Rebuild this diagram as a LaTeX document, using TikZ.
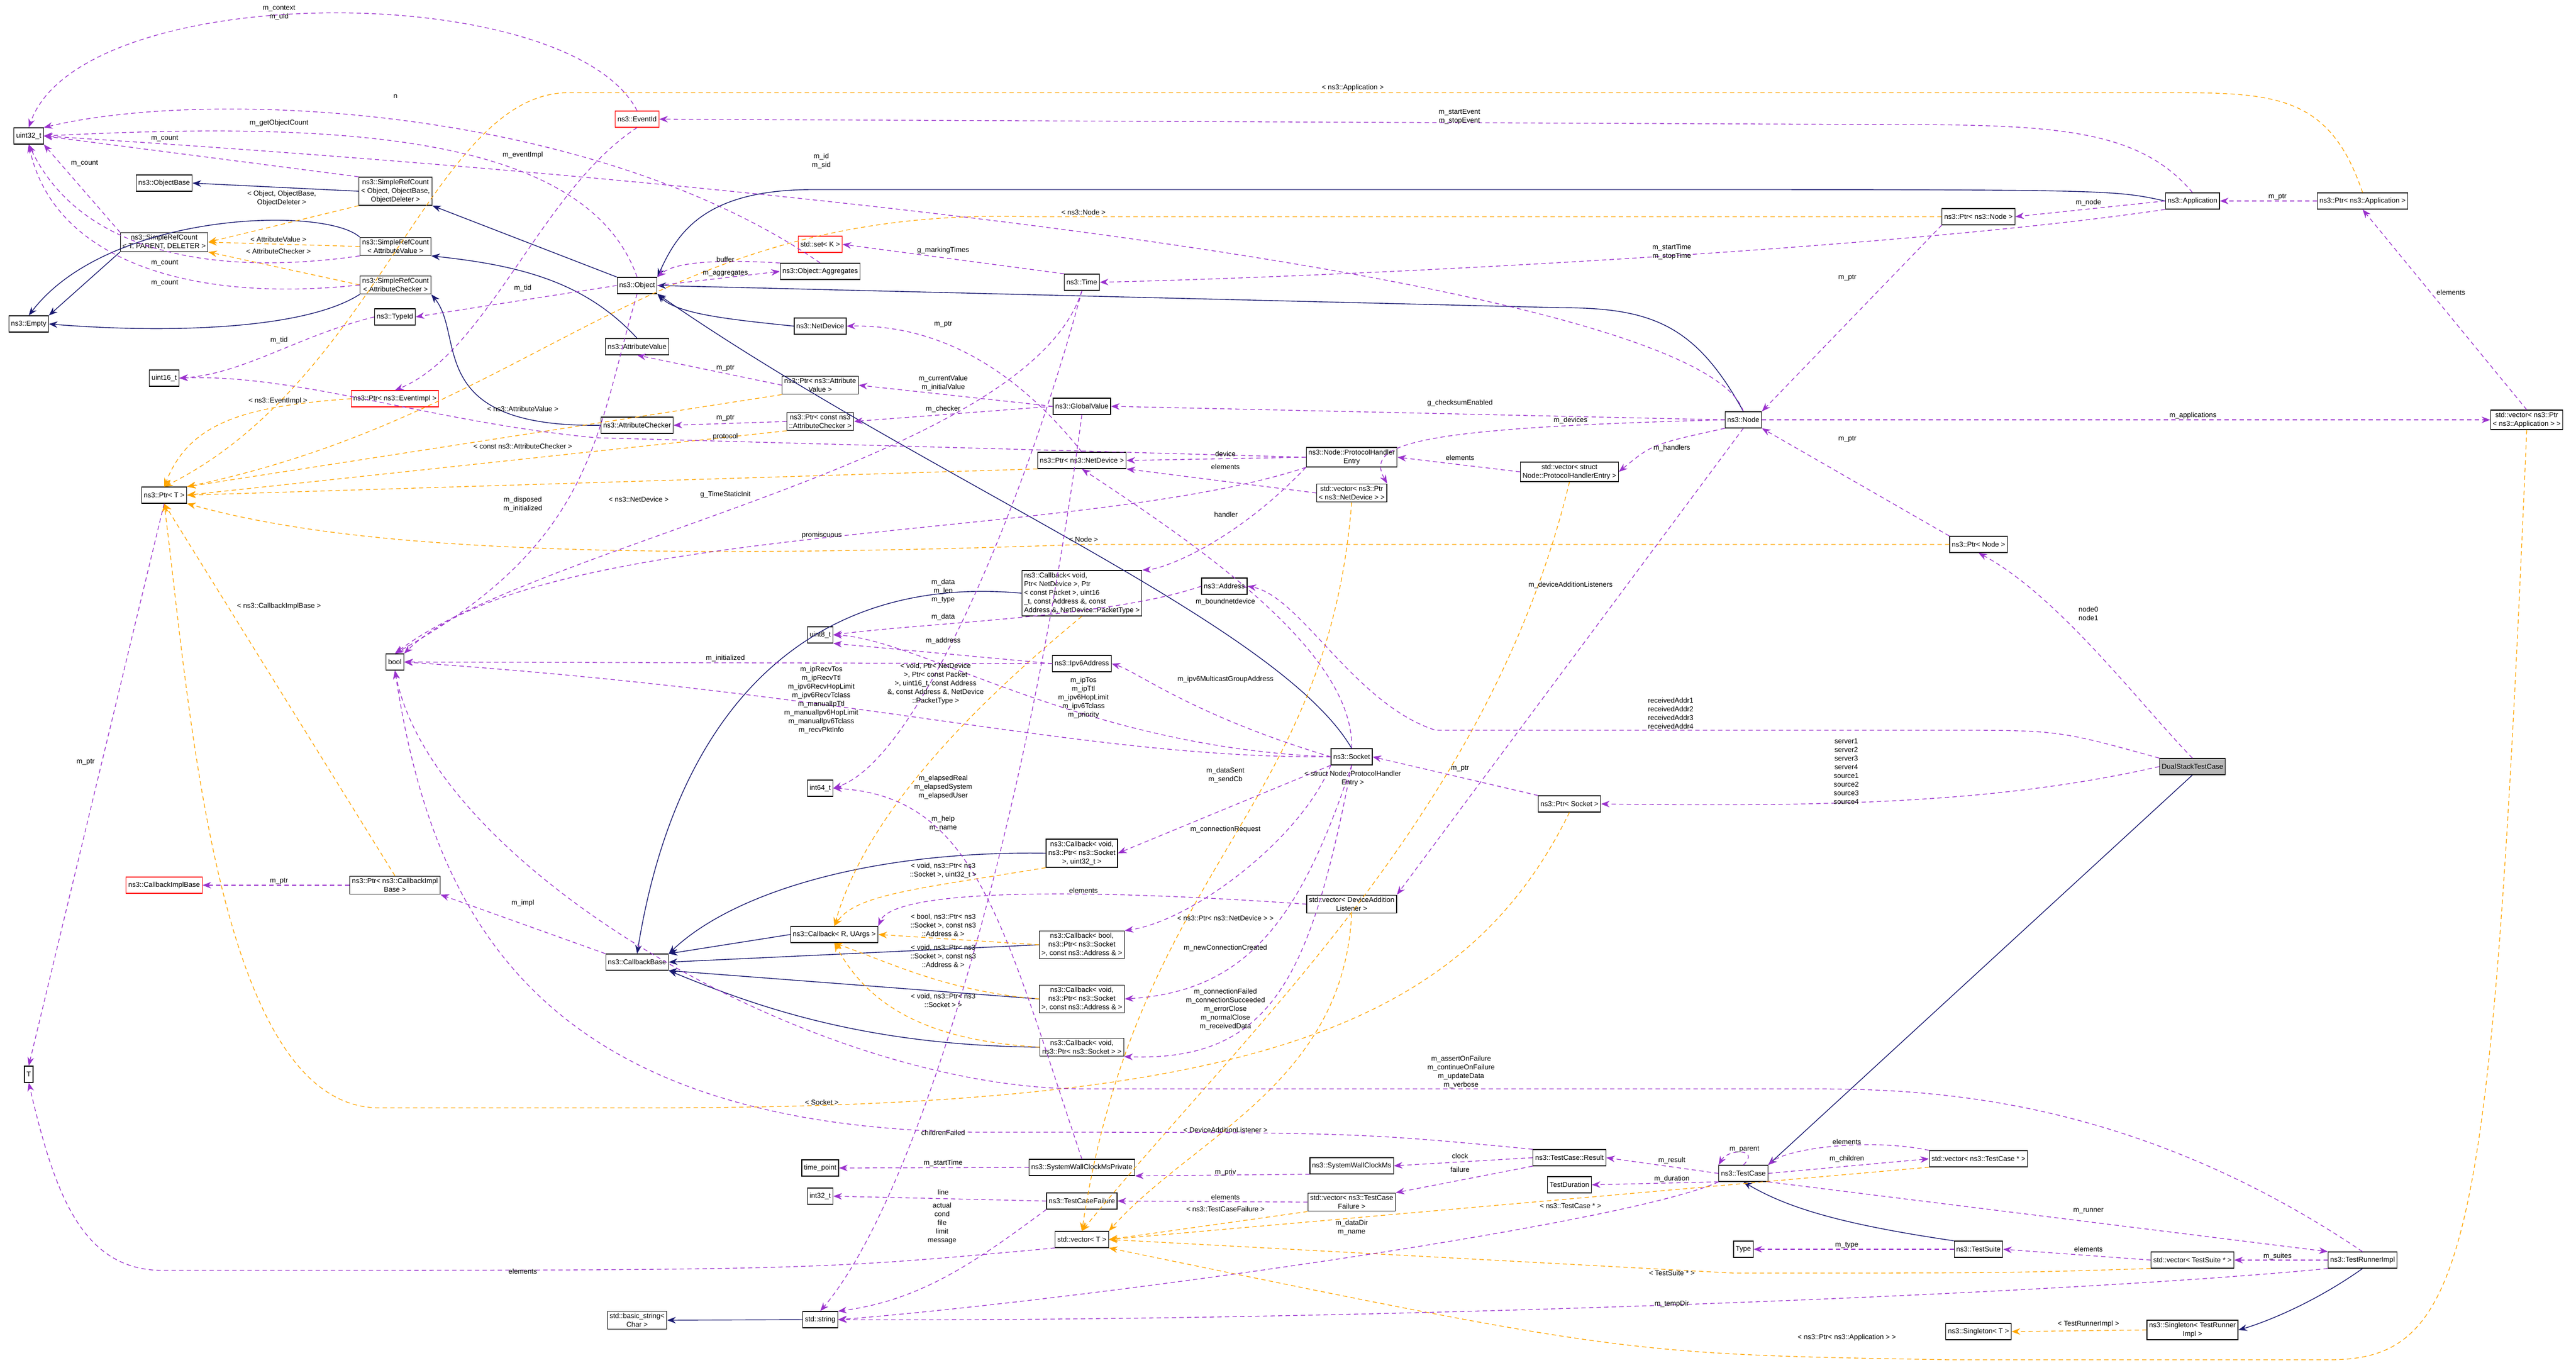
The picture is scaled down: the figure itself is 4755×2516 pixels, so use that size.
\documentclass[tikz,border=0pt]{standalone}
\usepackage{fontspec}
\setmainfont{Liberation Sans}
\usetikzlibrary{arrows.meta}
\definecolor{memc}{HTML}{9A32CD}
\definecolor{inhc}{HTML}{191970}
\definecolor{tplc}{HTML}{FFA500}
\tikzset{
  cls/.style={draw=black, fill=white, line width=1.2pt, inner sep=4pt, align=center, minimum height=30pt, font=\fontsize{13}{16}\selectfont},
  redcls/.style={cls, draw=red},
  maincls/.style={cls, fill=gray!55},
  lbl/.style={align=center, inner sep=1pt, font=\fontsize{13}{16}\selectfont},
  mem/.style={draw=memc, line width=1.3pt, dash pattern=on 8pt off 6pt, -{Stealth[length=16pt,width=12pt]}},
  inh/.style={draw=inhc, line width=1.4pt, -{Stealth[length=16pt,width=12pt]}},
  tpl/.style={draw=tplc, line width=1.3pt, dash pattern=on 8pt off 6pt, -{Stealth[length=16pt,width=12pt]}}
}
\begin{document}
\begin{tikzpicture}[x=1pt,y=-1pt]
\useasboundingbox (0,0) rectangle (4755,2516);
% classes
\node[cls] (u32) at (53,251) {uint32\_t};
\node[cls] (objbase) at (303,338) {ns3::ObjectBase};
\node[cls] (srcobj) at (730,353) {ns3::SimpleRefCount\\< Object, ObjectBase,\\ObjectDeleter >};
\node[cls] (srct) at (303,447) {ns3::SimpleRefCount\\< T, PARENT, DELETER >};
\node[cls] (srcav) at (730,455) {ns3::SimpleRefCount\\< AttributeValue >};
\node[cls] (srcac) at (730,526) {ns3::SimpleRefCount\\< AttributeChecker >};
\node[cls] (empty) at (53,598) {ns3::Empty};
\node[cls] (typeid) at (729,585) {ns3::TypeId};
\node[cls] (u16) at (303,698) {uint16\_t};
\node[redcls] (eventid) at (1176,220) {ns3::EventId};
\node[cls] (object) at (1176,527) {ns3::Object};
\node[cls] (aggr) at (1514,501) {ns3::Object::Aggregates};
\node[redcls] (setk) at (1514,451) {std::set< K >};
\node[cls] (netdev) at (1514,602) {ns3::NetDevice};
\node[cls] (attrval) at (1176,640) {ns3::AttributeValue};
\node[cls] (ptrav) at (1514,711) {ns3::Ptr< ns3::Attribute\\Value >};
\node[redcls] (ptrevt) at (729,736) {ns3::Ptr< ns3::EventImpl >};
\node[cls] (attrchk) at (1176,785) {ns3::AttributeChecker};
\node[cls] (ptrac) at (1514,778) {ns3::Ptr< const ns3\\::AttributeChecker >};
\node[cls] (ptrt) at (303,914) {ns3::Ptr< T >};
\node[cls] (u8) at (1514,1172) {uint8\_t};
\node[cls] (boolt) at (729,1222) {bool};
\node[cls] (time) at (1997,521) {ns3::Time};
\node[cls] (globval) at (1997,750) {ns3::GlobalValue};
\node[cls] (ptrnd) at (1997,850) {ns3::Ptr< ns3::NetDevice >};
\node[cls] (phe) at (2495,844) {ns3::Node::ProtocolHandler\\Entry};
\node[cls] (vecnd) at (2495,910) {std::vector< ns3::Ptr\\< ns3::NetDevice > >};
\node[cls] (vecphe) at (2897,871) {std::vector< struct\\Node::ProtocolHandlerEntry >};
\node[cls, align=left] (cbnd) at (1997,1095) {ns3::Callback< void,\\Ptr< NetDevice >, Ptr\\< const Packet >, uint16\\\_t, const Address \&, const\\Address \&, NetDevice::PacketType >};
\node[cls] (address) at (2260,1082) {ns3::Address};
\node[cls] (ipv6) at (1997,1225) {ns3::Ipv6Address};
\node[cls] (app) at (4047,371) {ns3::Application};
\node[cls] (ptrapp) at (4361,371) {ns3::Ptr< ns3::Application >};
\node[cls] (ptrnode) at (3652,400) {ns3::Ptr< ns3::Node >};
\node[cls] (node) at (3218,775) {ns3::Node};
\node[cls] (vecapp) at (4664,775) {std::vector< ns3::Ptr\\< ns3::Application > >};
\node[cls] (ptrnode2) at (3652,1005) {ns3::Ptr< Node >};
\node[cls] (tt) at (53,1983) {T};
\node[redcls] (cbimpl) at (303,1634) {ns3::CallbackImplBase};
\node[cls] (ptrcbimpl) at (729,1634) {ns3::Ptr< ns3::CallbackImpl\\Base >};
\node[cls] (cbbase) at (1176,1776) {ns3::CallbackBase};
\node[cls] (cbr) at (1540,1725) {ns3::Callback< R, UArgs >};
\node[cls] (i64) at (1514,1455) {int64\_t};
\node[cls] (tpoint) at (1514,2156) {time\_point};
\node[cls] (i32) at (1514,2208) {int32\_t};
\node[cls] (bstr) at (1176,2437) {std::basic\_string<\\Char >};
\node[cls] (str) at (1514,2436) {std::string};
\node[cls] (socket) at (2495,1397) {ns3::Socket};
\node[cls] (ptrsock) at (2897,1484) {ns3::Ptr< Socket >};
\node[cls] (cbsock32) at (1997,1575) {ns3::Callback< void,\\ns3::Ptr< ns3::Socket\\>, uint32\_t >};
\node[cls] (vecdal) at (2495,1669) {std::vector< DeviceAddition\\Listener >};
\node[cls] (cbbool) at (1997,1744) {ns3::Callback< bool,\\ns3::Ptr< ns3::Socket\\>, const ns3::Address \& >};
\node[cls] (cbaddr) at (1997,1844) {ns3::Callback< void,\\ns3::Ptr< ns3::Socket\\>, const ns3::Address \& >};
\node[cls] (cbsock) at (1997,1933) {ns3::Callback< void,\\ns3::Ptr< ns3::Socket > >};
\node[cls] (swcmp) at (1997,2155) {ns3::SystemWallClockMsPrivate};
\node[cls] (swcm) at (2495,2152) {ns3::SystemWallClockMs};
\node[cls] (result) at (2897,2137) {ns3::TestCase::Result};
\node[cls] (tcfail) at (1997,2217) {ns3::TestCaseFailure};
\node[cls] (vectcf) at (2495,2219) {std::vector< ns3::TestCase\\Failure >};
\node[cls] (vect) at (1997,2288) {std::vector< T >};
\node[cls] (tdur) at (2897,2187) {TestDuration};
\node[maincls] (dstc) at (4047,1415) {DualStackTestCase};
\node[cls] (testcase) at (3218,2166) {ns3::TestCase};
\node[cls] (vectc) at (3652,2139) {std::vector< ns3::TestCase * >};
\node[cls] (typet) at (3218,2306) {Type};
\node[cls] (suite) at (3652,2306) {ns3::TestSuite};
\node[cls] (vecsuite) at (4047,2326) {std::vector< TestSuite * >};
\node[cls] (runner) at (4361,2326) {ns3::TestRunnerImpl};
\node[cls] (singtr) at (4047,2455) {ns3::Singleton< TestRunner\\Impl >};
\node[cls] (singt) at (3652,2458) {ns3::Singleton< T >};

% inheritance
\draw[inh] (srcobj.west) -- (objbase.east);
\draw[inh] (srct.south west) -- (empty.north east);
\draw[inh] (srcav.north west) .. controls (600,380) and (200,390) .. (empty.north);
\draw[inh] (srcac.south west) .. controls (560,610) and (300,615) .. (empty.east);
\draw[inh] (object.north west) -- (srcobj.south east);
\draw[inh] (attrval.north) .. controls (1080,520) and (960,490) .. (srcav.south east);
\draw[inh] (attrchk.west) .. controls (780,790) and (860,620) .. (srcac.south east);
\draw[inh] (netdev.west) .. controls (1350,590) and (1250,580) .. (object.south east);
\draw[inh] (node.north) .. controls (3130,600) and (3050,568) .. (2880,568) -- (object.east);
\draw[inh] (app.west) .. controls (3900,350) .. (3000,350) -- (1500,350) .. controls (1300,350) and (1250,430) .. (object.north east);
\draw[inh] (socket.north) .. controls (2360,1150) and (1700,880) .. (object.south east);
\draw[inh] (cbnd.west) .. controls (1500,1060) and (1250,1300) .. (cbbase.north);
\draw[inh] (cbr.west) -- (cbbase.north east);
\draw[inh] (cbsock32.west) .. controls (1600,1570) and (1350,1650) .. (cbbase.north east);
\draw[inh] (cbbool.west) -- (cbbase.east);
\draw[inh] (cbaddr.west) -- (cbbase.south east);
\draw[inh] (cbsock.west) .. controls (1600,1930) and (1400,1860) .. (cbbase.south east);
\draw[inh] (str.west) -- (bstr.east);
\draw[inh] (dstc.south) -- (testcase.north east);
\draw[inh] (suite.north west) .. controls (3400,2260) and (3300,2230) .. (testcase.south);
\draw[inh] (runner.south) .. controls (4250,2420) and (4150,2450) .. (singtr.east);

% template instances
\draw[tpl] (srcobj.south west) -- (srct.east);
\draw[tpl] (srcav.west) -- (srct.east);
\draw[tpl] (srcac.west) -- (srct.south east);
\draw[tpl] (ptrevt.west) .. controls (450,750) and (350,780) .. (ptrt.north);
\draw[tpl] (ptrav.south west) -- (ptrt.north east);
\draw[tpl] (ptrac.south west) -- (ptrt.east);
\draw[tpl] (ptrnd.south west) -- (ptrt.east);
\draw[tpl] (ptrnode.west) -- (1900,400) .. controls (1200,380) and (1000,760) .. (ptrt.north east);
\draw[tpl] (ptrapp.north) .. controls (4300,175) and (4200,171) .. (4000,171) -- (1050,171) .. controls (800,171) and (700,700) .. (ptrt.north);
\draw[tpl] (ptrnode2.west) -- (2000,1005) .. controls (1000,1040) and (600,1000) .. (ptrt.south east);
\draw[tpl] (ptrcbimpl.north) -- (ptrt.south);
\draw[tpl] (ptrsock.south) .. controls (2700,1900) and (2300,2045) .. (1200,2045) -- (700,2045) .. controls (400,2045) and (350,1300) .. (ptrt.south);
\draw[tpl] (cbnd.south) .. controls (1800,1300) and (1600,1500) .. (cbr.north);
\draw[tpl] (cbsock32.south west) .. controls (1700,1640) and (1580,1650) .. (cbr.north);
\draw[tpl] (cbbool.west) -- (cbr.east);
\draw[tpl] (cbaddr.west) .. controls (1750,1830) and (1650,1780) .. (cbr.south);
\draw[tpl] (cbsock.west) .. controls (1700,1920) and (1600,1850) .. (cbr.south);
\draw[tpl] (vecnd.south) .. controls (2450,1500) and (2100,1600) .. (vect.north);
\draw[tpl] (vecphe.south) .. controls (2750,1500) and (2300,1900) .. (vect.north);
\draw[tpl] (vecdal.south) .. controls (2480,2000) and (2200,2100) .. (vect.north east);
\draw[tpl] (vectcf.south west) -- (vect.east);
\draw[tpl] (vectc.south west) -- (vect.east);
\draw[tpl] (vecsuite.south west) .. controls (3700,2350) .. (3200,2350) -- (vect.east);
\draw[tpl] (vecapp.south) .. controls (4600,2300) and (4560,2510) .. (4300,2510) -- (3600,2510) .. controls (3000,2500) .. (vect.south east);
\draw[tpl] (singtr.west) -- (singt.east);

% members
\draw[mem] (eventid.north) .. controls (1050,-40) and (150,-40) .. (u32.north);
\draw[mem] (aggr.north) .. controls (1100,200) and (400,160) .. (u32.north east);
\draw[mem] (object.north) .. controls (1080,240) and (600,225) .. (u32.east);
\draw[mem] (srcobj.north west) -- (u32.east);
\draw[mem] (srct.north west) -- (u32.south east);
\draw[mem] (srcav.south west) .. controls (400,510) and (150,470) .. (u32.south);
\draw[mem] (srcac.west) .. controls (350,560) and (100,480) .. (u32.south);
\draw[mem] (node.north) .. controls (3150,550) and (1800,360) .. (u32.east);
\draw[mem] (object.west) -- (typeid.east);
\draw[mem] (typeid.west) .. controls (550,620) and (450,690) .. (u16.east);
\draw[mem] (phe.west) -- (1100,808) .. controls (800,780) and (550,690) .. (u16.east);
\draw[mem] (app.north) .. controls (3950,240) and (3800,230) .. (3500,230) -- (eventid.east);
\draw[mem] (eventid.south) .. controls (1000,350) and (900,650) .. (ptrevt.north);
\draw[mem] (ptrt.south) -- (tt.north);
\draw[mem] (vect.south west) .. controls (1500,2345) .. (300,2345) .. controls (150,2345) and (100,2200) .. (tt.south);
\draw[mem] (ptrav.west) -- (attrval.south);
\draw[mem] (ptrac.west) -- (attrchk.east);
\draw[mem] (object.east) -- (aggr.west);
\draw[mem] (aggr.north west) .. controls (1350,480) and (1250,480) .. (object.north east);
\draw[mem] (time.north west) -- (setk.east);
\draw[mem] (app.south west) .. controls (3500,460) and (2500,510) .. (time.east);
\draw[mem] (ptrnd.north) .. controls (1850,650) and (1700,600) .. (netdev.east);
\draw[mem] (globval.west) -- (ptrav.east);
\draw[mem] (globval.west) -- (ptrac.east);
\draw[mem] (node.west) -- (globval.east);
\draw[mem] (phe.west) -- (ptrnd.east);
\draw[mem] (vecnd.west) -- (ptrnd.south east);
\draw[mem] (vecphe.west) -- (phe.east);
\draw[mem] (node.south west) .. controls (3050,820) .. (vecphe.east);
\draw[mem] (node.west) .. controls (2600,790) and (2520,820) .. (vecnd.north east);
\draw[mem] (phe.south west) .. controls (2280,1000) and (2150,1050) .. (cbnd.north east);
\draw[mem] (phe.south west) .. controls (2000,1000) and (1000,960) .. (boolt.north east);
\draw[mem] (time.south) .. controls (1900,850) and (1000,1000) .. (boolt.north);
\draw[mem] (object.south) .. controls (1100,800) and (1100,1000) .. (boolt.north);
\draw[mem] (ipv6.west) -- (boolt.east);
\draw[mem] (socket.west) .. controls (2000,1400) and (1600,1280) .. (boolt.east);
\draw[mem] (runner.north) .. controls (3900,2000) and (3500,2010) .. (3300,2010) -- (2000,2010) .. controls (1500,2010) and (800,1600) .. (boolt.south);
\draw[mem] (result.north west) .. controls (2500,2090) .. (1800,2090) .. controls (1000,2080) and (800,1700) .. (boolt.south);
\draw[mem] (address.west) .. controls (2050,1140) and (1700,1150) .. (u8.east);
\draw[mem] (ipv6.west) -- (u8.south east);
\draw[mem] (socket.west) .. controls (2000,1380) and (1700,1180) .. (u8.east);
\draw[mem] (time.south) .. controls (1900,900) and (1700,1400) .. (i64.east);
\draw[mem] (swcmp.north) .. controls (1850,1700) and (1800,1470) .. (i64.east);
\draw[mem] (cbbase.north west) -- (ptrcbimpl.south east);
\draw[mem] (ptrcbimpl.west) -- (cbimpl.east);
\draw[mem] (socket.south west) -- (cbsock32.east);
\draw[mem] (socket.south west) .. controls (2400,1550) and (2200,1700) .. (cbbool.north east);
\draw[mem] (socket.south) .. controls (2400,1700) and (2300,1830) .. (cbaddr.east);
\draw[mem] (socket.south) .. controls (2420,1800) and (2350,1960) .. (cbsock.south east);
\draw[mem] (vecdal.west) .. controls (2000,1640) and (1650,1640) .. (cbr.north east);
\draw[mem] (node.south) -- (vecdal.north east);
\draw[mem] (socket.north) .. controls (2500,1200) and (2200,1000) .. (ptrnd.south);
\draw[mem] (dstc.north west) .. controls (3800,1348) .. (3600,1348) -- (2650,1348) .. controls (2500,1300) and (2400,1100) .. (address.east);
\draw[mem] (socket.west) .. controls (2200,1320) and (2100,1240) .. (ipv6.east);
\draw[mem] (ptrsock.north west) -- (socket.east);
\draw[mem] (dstc.west) .. controls (3700,1480) and (3400,1490) .. (ptrsock.east);
\draw[mem] (dstc.north) .. controls (3950,1300) and (3800,1100) .. (ptrnode2.south);
\draw[mem] (ptrnode2.north west) -- (node.south east);
\draw[mem] (ptrnode.south west) -- (node.north east);
\draw[mem] (app.west) -- (ptrnode.east);
\draw[mem] (ptrapp.west) -- (app.east);
\draw[mem] (vecapp.north) -- (ptrapp.south);
\draw[mem] (node.east) -- (vecapp.west);
\draw[mem] (testcase.north) .. controls (3250,2120) and (3190,2120) .. (testcase.north west);
\draw[mem] (vectc.north west) .. controls (3450,2100) and (3300,2120) .. (testcase.north east);
\draw[mem] (testcase.east) -- (vectc.west);
\draw[mem] (testcase.south east) -- (runner.north west);
\draw[mem] (testcase.west) -- (result.east);
\draw[mem] (testcase.south west) -- (tdur.east);
\draw[mem] (result.west) -- (swcm.east);
\draw[mem] (result.south west) -- (vectcf.north east);
\draw[mem] (vectcf.west) -- (tcfail.east);
\draw[mem] (swcm.south west) -- (swcmp.south east);
\draw[mem] (swcmp.west) -- (tpoint.east);
\draw[mem] (tcfail.west) -- (i32.east);
\draw[mem] (tcfail.south west) .. controls (1800,2330) and (1700,2400) .. (str.north east);
\draw[mem] (testcase.south west) .. controls (3000,2260) and (2000,2400) .. (str.east);
\draw[mem] (runner.south west) .. controls (3800,2390) and (2500,2440) .. (str.east);
\draw[mem] (globval.south) .. controls (1900,1500) and (1700,2200) .. (str.north);
\draw[mem] (suite.west) -- (typet.east);
\draw[mem] (vecsuite.west) -- (suite.east);
\draw[mem] (runner.west) -- (vecsuite.east);

% labels
\node[lbl] (l1) at (515,24) {m\_context\\m\_uid};
\node[lbl] (l2) at (730,178) {n};
\node[lbl] (l3) at (515,227) {m\_getObjectCount};
\node[lbl] (l4) at (304,256) {m\_count};
\node[lbl] (l5) at (156,302) {m\_count};
\node[lbl] (l6) at (304,486) {m\_count};
\node[lbl] (l7) at (304,523) {m\_count};
\node[lbl] (l8) at (1516,297) {m\_id\\m\_sid};
\node[lbl] (l9) at (520,366) {< Object, ObjectBase,\\ObjectDeleter >};
\node[lbl] (l10) at (514,442) {< AttributeValue >};
\node[lbl] (l11) at (514,464) {< AttributeChecker >};
\node[lbl] (l12) at (965,532) {m\_tid};
\node[lbl] (l13) at (515,628) {m\_tid};
\node[lbl] (l14) at (1339,806) {protocol};
\node[lbl] (l15) at (2694,215) {m\_startEvent\\m\_stopEvent};
\node[lbl] (l16) at (965,286) {m\_eventImpl};
\node[lbl] (l17) at (513,740) {< ns3::EventImpl >};
\node[lbl] (l18) at (965,755) {< ns3::AttributeValue >};
\node[lbl] (l19) at (965,824) {< const ns3::AttributeChecker >};
\node[lbl] (l20) at (1179,922) {< ns3::NetDevice >};
\node[lbl] (l21) at (2000,392) {< ns3::Node >};
\node[lbl] (l22) at (2497,162) {< ns3::Application >};
\node[lbl] (l23) at (2000,996) {< Node >};
\node[lbl] (l24) at (515,1119) {< ns3::CallbackImplBase >};
\node[lbl] (l25) at (1517,2035) {< Socket >};
\node[lbl] (l26) at (158,1407) {m\_ptr};
\node[lbl] (l27) at (965,2347) {elements};
\node[lbl] (l28) at (1339,680) {m\_ptr};
\node[lbl] (l29) at (1339,772) {m\_ptr};
\node[lbl] (l30) at (1339,505) {m\_aggregates};
\node[lbl] (l31) at (1339,479) {buffer};
\node[lbl] (l32) at (1741,462) {g\_markingTimes};
\node[lbl] (l33) at (3086,465) {m\_startTime\\m\_stopTime};
\node[lbl] (l34) at (1741,599) {m\_ptr};
\node[lbl] (l35) at (1741,707) {m\_currentValue\\m\_initialValue};
\node[lbl] (l36) at (1741,755) {m\_checker};
\node[lbl] (l37) at (2695,744) {g\_checksumEnabled};
\node[lbl] (l38) at (2262,838) {device};
\node[lbl] (l39) at (2262,862) {elements};
\node[lbl] (l40) at (2695,845) {elements};
\node[lbl] (l41) at (3086,827) {m\_handlers};
\node[lbl] (l42) at (2899,776) {m\_devices};
\node[lbl] (l43) at (2263,950) {handler};
\node[lbl] (l44) at (1517,988) {promiscuous};
\node[lbl] (l45) at (1339,913) {g\_TimeStaticInit};
\node[lbl] (l46) at (965,931) {m\_disposed\\m\_initialized};
\node[lbl] (l47) at (1339,1215) {m\_initialized};
\node[lbl] (l48) at (1516,1292) {m\_ipRecvTos\\m\_ipRecvTtl\\m\_ipv6RecvHopLimit\\m\_ipv6RecvTclass\\m\_manualIpTtl\\m\_manualIpv6HopLimit\\m\_manualIpv6Tclass\\m\_recvPktInfo};
\node[lbl] (l49) at (2697,1979) {m\_assertOnFailure\\m\_continueOnFailure\\m\_updateData\\m\_verbose};
\node[lbl] (l50) at (1741,2091) {childrenFailed};
\node[lbl] (l51) at (1741,1091) {m\_data\\m\_len\\m\_type};
\node[lbl] (l52) at (1741,1183) {m\_address};
\node[lbl] (l53) at (1741,1139) {m\_data};
\node[lbl] (l54) at (1741,1453) {m\_elapsedReal\\m\_elapsedSystem\\m\_elapsedUser};
\node[lbl] (l55) at (1727,1262) {< void, Ptr< NetDevice\\>, Ptr< const Packet\\>, uint16\_t, const Address\\\&, const Address \&, NetDevice\\::PacketType >};
\node[lbl] (l56) at (1741,1607) {< void, ns3::Ptr< ns3\\::Socket >, uint32\_t >};
\node[lbl] (l57) at (1741,1708) {< bool, ns3::Ptr< ns3\\::Socket >, const ns3\\::Address \& >};
\node[lbl] (l58) at (1741,1765) {< void, ns3::Ptr< ns3\\::Socket >, const ns3\\::Address \& >};
\node[lbl] (l59) at (1741,1847) {< void, ns3::Ptr< ns3\\::Socket > >};
\node[lbl] (l60) at (965,1667) {m\_impl};
\node[lbl] (l61) at (515,1627) {m\_ptr};
\node[lbl] (l62) at (2262,1431) {m\_dataSent\\m\_sendCb};
\node[lbl] (l63) at (2262,1531) {m\_connectionRequest};
\node[lbl] (l64) at (2262,1750) {m\_newConnectionCreated};
\node[lbl] (l65) at (2262,1863) {m\_connectionFailed\\m\_connectionSucceeded\\m\_errorClose\\m\_normalClose\\m\_receivedData};
\node[lbl] (l66) at (2000,1644) {elements};
\node[lbl] (l67) at (2899,1080) {m\_deviceAdditionListeners};
\node[lbl] (l68) at (2262,1111) {m\_boundnetdevice};
\node[lbl] (l69) at (3084,1317) {receivedAddr1\\receivedAddr2\\receivedAddr3\\receivedAddr4};
\node[lbl] (l70) at (2262,1254) {m\_ipv6MulticastGroupAddress};
\node[lbl] (l71) at (2000,1288) {m\_ipTos\\m\_ipTtl\\m\_ipv6HopLimit\\m\_ipv6Tclass\\m\_priority};
\node[lbl] (l72) at (2695,1419) {m\_ptr};
\node[lbl] (l73) at (3408,1424) {server1\\server2\\server3\\server4\\source1\\source2\\source3\\source4};
\node[lbl] (l74) at (3855,1133) {node0\\node1};
\node[lbl] (l75) at (3410,811) {m\_ptr};
\node[lbl] (l76) at (3410,513) {m\_ptr};
\node[lbl] (l77) at (3855,374) {m\_node};
\node[lbl] (l78) at (4204,364) {m\_ptr};
\node[lbl] (l79) at (4524,540) {elements};
\node[lbl] (l80) at (4048,767) {m\_applications};
\node[lbl] (l81) at (3409,2469) {< ns3::Ptr< ns3::Application > >};
\node[lbl] (l82) at (3220,2122) {m\_parent};
\node[lbl] (l83) at (3409,2108) {elements};
\node[lbl] (l84) at (3409,2139) {m\_children};
\node[lbl] (l85) at (3855,2235) {m\_runner};
\node[lbl] (l86) at (3086,2142) {m\_result};
\node[lbl] (l87) at (3086,2176) {m\_duration};
\node[lbl] (l88) at (2695,2134) {clock};
\node[lbl] (l89) at (2695,2159) {failure};
\node[lbl] (l90) at (2262,2210) {elements};
\node[lbl] (l91) at (2262,2232) {< ns3::TestCaseFailure >};
\node[lbl] (l92) at (2262,2164) {m\_priv};
\node[lbl] (l93) at (1741,2147) {m\_startTime};
\node[lbl] (l94) at (1741,2201) {line};
\node[lbl] (l95) at (1739,2258) {actual\\cond\\file\\limit\\message};
\node[lbl] (l96) at (2495,2266) {m\_dataDir\\m\_name};
\node[lbl] (l97) at (3086,2407) {m\_tempDir};
\node[lbl] (l98) at (1741,1520) {m\_help\\m\_name};
\node[lbl] (l99) at (2899,2226) {< ns3::TestCase * >};
\node[lbl] (l100) at (3086,2350) {< TestSuite * >};
\node[lbl] (l101) at (2262,2086) {< DeviceAdditionListener >};
\node[lbl] (l102) at (2262,1695) {< ns3::Ptr< ns3::NetDevice > >};
\node[lbl] (l103) at (2497,1437) {< struct Node::ProtocolHandler\\Entry >};
\node[lbl] (l104) at (3409,2299) {m\_type};
\node[lbl] (l105) at (3855,2306) {elements};
\node[lbl] (l106) at (4204,2319) {m\_suites};
\node[lbl] (l107) at (3855,2444) {< TestRunnerImpl >};
\end{tikzpicture}
\end{document}
